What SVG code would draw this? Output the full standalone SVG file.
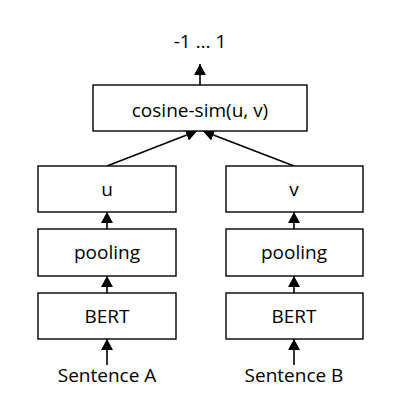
<svg xmlns="http://www.w3.org/2000/svg" width="400" height="403" viewBox="0 0 400 403">
<style>
.box{fill:#fff;stroke:#000;stroke-width:1.4}
.t{font-family:"Open Sans","Liberation Sans",sans-serif;font-size:19px;fill:#000;text-anchor:middle}
.c{stroke:#000;stroke-width:1.6;fill:none;marker-end:url(#ah)}
</style>
<defs>
<marker id="ah" markerUnits="userSpaceOnUse" markerWidth="12" markerHeight="12" viewBox="0 0 12 12" refX="11" refY="6" orient="auto">
<path d="M0,0 L11,6 L0,12 Z" fill="#000"/>
</marker>
</defs>
<rect width="400" height="403" fill="#fff"/>
<g id="connectors">
<line class="c" x1="200" y1="85" x2="200" y2="64"/>
<line class="c" x1="107" y1="166" x2="197" y2="131"/>
<line class="c" x1="294" y1="166" x2="203" y2="131"/>
<line class="c" x1="107" y1="229" x2="107" y2="212"/>
<line class="c" x1="107" y1="293" x2="107" y2="276"/>
<line class="c" x1="107" y1="365" x2="107" y2="339"/>
<line class="c" x1="294" y1="229" x2="294" y2="212"/>
<line class="c" x1="294" y1="293" x2="294" y2="276"/>
<line class="c" x1="294" y1="365" x2="294" y2="339"/>
</g>
<g id="output"><text class="t" x="200" y="48">-1 … 1</text></g>
<g id="cosine"><rect class="box" x="93" y="85" width="214" height="46"/><text class="t" x="200" y="117">cosine-sim(u, v)</text></g>
<g id="u"><rect class="box" x="38" y="166" width="138" height="46"/><text class="t" x="107" y="196">u</text></g>
<g id="poolingA"><rect class="box" x="38" y="229" width="138" height="47"/><text class="t" x="107" y="259">pooling</text></g>
<g id="bertA"><rect class="box" x="38" y="293" width="138" height="46"/><text class="t" x="107" y="323">BERT</text></g>
<g id="sentA"><text class="t" x="107" y="382">Sentence A</text></g>
<g id="v"><rect class="box" x="226" y="166" width="137" height="46"/><text class="t" x="294" y="196">v</text></g>
<g id="poolingB"><rect class="box" x="226" y="229" width="137" height="47"/><text class="t" x="294" y="259">pooling</text></g>
<g id="bertB"><rect class="box" x="226" y="293" width="137" height="46"/><text class="t" x="294" y="323">BERT</text></g>
<g id="sentB"><text class="t" x="294" y="382">Sentence B</text></g>
</svg>
